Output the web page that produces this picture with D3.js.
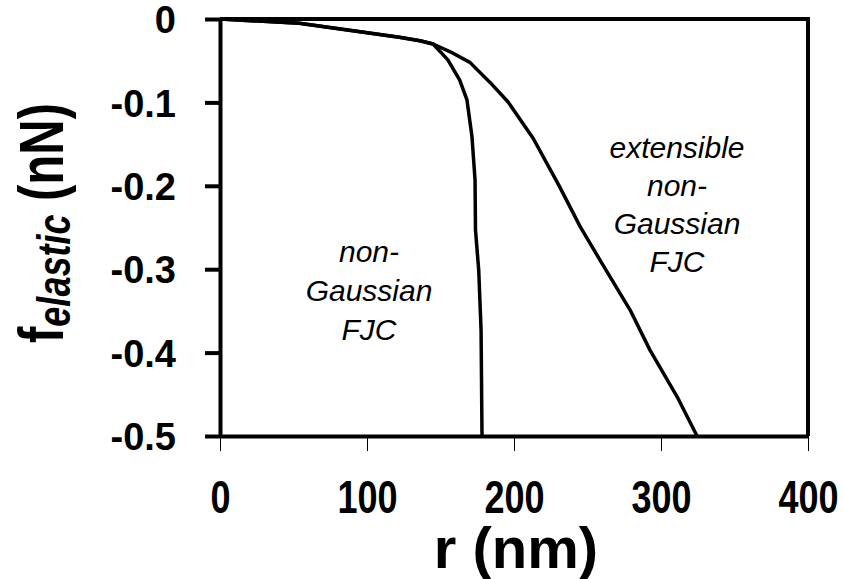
<!DOCTYPE html>
<html>
<head>
<meta charset="utf-8">
<script src="https://cdn.jsdelivr.net/npm/d3@7"></script>
<style>
  body { margin: 0; background: #fff; }
  svg { display: block; }
  text { font-family: "Liberation Sans", Arial, sans-serif; }
</style>
</head>
<body>
<svg id="chart" width="844" height="579"></svg>
<script>
// distance r (nm) vs elastic force (nN)
const nonGaussR = [0, 54, 122, 136, 145, 155, 163, 168, 171.4, 173.5, 173.8, 176, 177.6, 178.2, 178.3];
const nonGaussF = [0, -0.005, -0.022, -0.026, -0.030, -0.049, -0.073, -0.097, -0.141, -0.193, -0.253, -0.301, -0.373, -0.493, -0.5];

const extR = [0, 54, 122, 136, 145, 158.5, 170, 183.7, 196, 213, 231, 245, 258.5, 279, 292.5, 311, 324.5];
const extF = [0, -0.005, -0.022, -0.026, -0.030, -0.041, -0.052, -0.076, -0.0995, -0.143, -0.201, -0.249, -0.289, -0.349, -0.397, -0.453, -0.5];

const xTicks = [0, 100, 200, 300, 400];
const yTicks = [0, -0.1, -0.2, -0.3, -0.4, -0.5];
const yTickLabels = ['0', '-0.1', '-0.2', '-0.3', '-0.4', '-0.5'];

const leftLabel = ['non-', 'Gaussian', 'FJC'];
const rightLabel = ['extensible', 'non-', 'Gaussian', 'FJC'];

const svg = d3.select('#chart');
svg.append('rect').attr('width', 844).attr('height', 579).attr('fill', '#fff');

const x = d3.scaleLinear().domain([0, 400]).range([220, 808]);
const y = d3.scaleLinear().domain([-0.5, 0]).range([436, 19]);

// frame: top and right sides
svg.append('path')
  .attr('d', `M${x(0)},${y(0)}H${x(400)}V${y(-0.5)}`)
  .attr('fill', 'none')
  .attr('stroke', '#000')
  .attr('stroke-width', 4);

// y axis, thick ticks
const yAxis = svg.append('g')
  .attr('transform', `translate(${x(0)},0)`)
  .call(d3.axisLeft(y)
    .tickValues(yTicks)
    .tickSize(15)
    .tickSizeOuter(0)
    .tickPadding(29)
    .tickFormat((d, i) => yTickLabels[i]));
yAxis.selectAll('path, line').attr('stroke', '#000').attr('stroke-width', 4);
yAxis.selectAll('text')
  .attr('fill', '#000')
  .style('font-size', '38px')
  .style('font-weight', 'bold')
  .attr('dy', '0.36em');

// x axis, thin ticks below; labels are drawn a bit taller than wide
const xAxis = svg.append('g')
  .attr('transform', `translate(0,${y(-0.5)})`)
  .call(d3.axisBottom(x)
    .tickValues(xTicks)
    .tickSize(15)
    .tickSizeOuter(0));
xAxis.select('path').attr('stroke', '#000').attr('stroke-width', 4);
xAxis.selectAll('line').attr('stroke', '#000').attr('stroke-width', 1);
xAxis.selectAll('text')
  .attr('fill', '#000')
  .attr('y', null)
  .attr('dy', null)
  .attr('transform', 'translate(0,77) scale(1,1.28)')
  .style('font-size', '36px')
  .style('font-weight', 'bold');

// curves
const line = d3.line().x(d => x(d[0])).y(d => y(d[1]));
const series = [
  d3.zip(nonGaussR, nonGaussF),
  d3.zip(extR, extF),
];
svg.selectAll('path.curve')
  .data(series)
  .join('path')
  .attr('class', 'curve')
  .attr('d', line)
  .attr('fill', 'none')
  .attr('stroke', '#000')
  .attr('stroke-width', 3.5)
  .attr('stroke-linejoin', 'round');

// annotations
function annotate(lines, cx, firstBaseline, step) {
  svg.append('g').selectAll('text')
    .data(lines)
    .join('text')
    .attr('x', cx)
    .attr('y', (d, i) => firstBaseline + i * step)
    .attr('text-anchor', 'middle')
    .style('font-size', '30px')
    .style('font-style', 'italic')
    .text(d => d);
}
annotate(leftLabel, 369, 262, 39);
annotate(rightLabel, 677, 158, 38);

// axis titles
svg.append('text')
  .attr('x', 516)
  .attr('y', 568)
  .attr('text-anchor', 'middle')
  .style('font-size', '58px')
  .style('font-weight', 'bold')
  .text('r (nm)');

const yTitle = svg.append('text')
  .attr('transform', 'translate(63,223) rotate(-90) scale(1,1.3)')
  .attr('text-anchor', 'middle')
  .style('font-size', '49px')
  .style('font-weight', 'bold');
yTitle.append('tspan').text('f');
yTitle.append('tspan')
  .attr('dy', 5)
  .style('font-size', '36px')
  .style('font-style', 'italic')
  .text('elastic');
yTitle.append('tspan')
  .attr('dy', -5)
  .text(' (nN)');
</script>
</body>
</html>
